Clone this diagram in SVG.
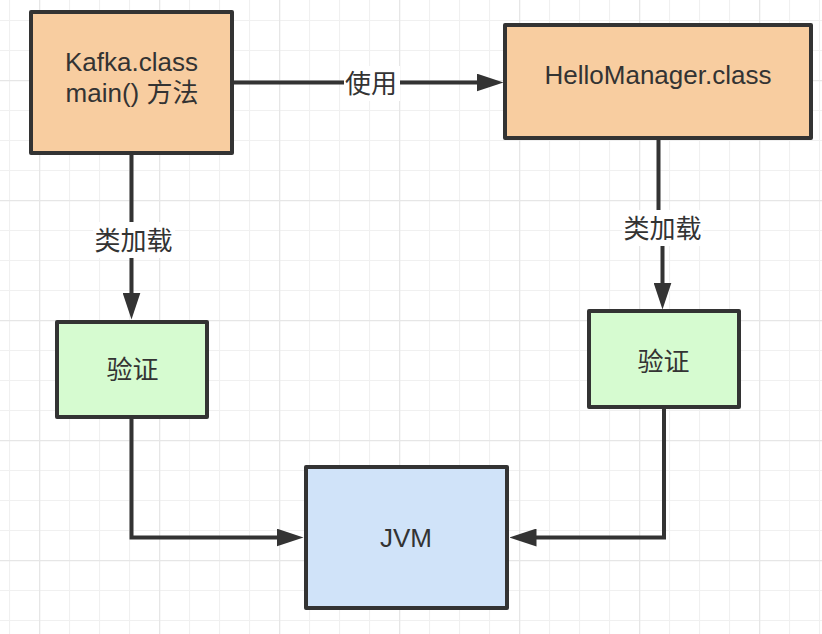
<svg xmlns="http://www.w3.org/2000/svg" width="822" height="634" viewBox="0 0 822 634">
  <style>
    .node { stroke: #333333; stroke-width: 4; stroke-linejoin: round; }
    .orange { fill: #F8CDA0; }
    .green { fill: #D6FBD0; }
    .blue { fill: #D0E3F9; }
    .t { font-family: "Liberation Sans", "Noto Sans CJK SC", sans-serif; font-size: 26px; fill: #333333; text-anchor: middle; }
    .edge { fill: none; stroke: #333333; stroke-width: 4; stroke-linejoin: miter; }
    .lblbg { fill: #ffffff; }
  </style>
  <defs>
    <pattern id="minor" patternUnits="userSpaceOnUse" x="9" y="20" width="30" height="30">
      <path d="M0.5,0 V30 M0,0.5 H30" fill="none" stroke="#f0f0f0" stroke-width="1.2"/>
    </pattern>
    <pattern id="major" patternUnits="userSpaceOnUse" x="39" y="80" width="120" height="120">
      <path d="M0.5,0 V120 M0,0.5 H120" fill="none" stroke="#e6e6e6" stroke-width="1.5"/>
    </pattern>
    <marker id="arrow" markerUnits="userSpaceOnUse" markerWidth="27" markerHeight="18" refX="0.5" refY="9" orient="auto" viewBox="0 0 27 18">
      <path d="M0,0 L27,9 L0,18 Z" fill="#333333"/>
    </marker>
  </defs>

  <rect width="822" height="634" fill="#ffffff"/>
  <rect width="822" height="634" fill="url(#minor)"/>
  <rect width="822" height="634" fill="url(#major)"/>

  <g id="connectors">
    <path class="edge" d="M233,82.5 H477" marker-end="url(#arrow)"/>
    <path class="edge" d="M131.5,154 V293" marker-end="url(#arrow)"/>
    <path class="edge" d="M658.5,139 V229 H662.5 V283" marker-end="url(#arrow)"/>
    <path class="edge" d="M131.5,418 V537.5 H277" marker-end="url(#arrow)"/>
    <path class="edge" d="M664,408 V537.5 H536" marker-end="url(#arrow)"/>
    <g id="label-use">
      <rect class="lblbg" x="344" y="66" width="56" height="35"/>
      <text class="t" x="371" y="92.5">使用</text>
    </g>
    <g id="label-load-left">
      <rect class="lblbg" x="93" y="222" width="82" height="36"/>
      <text class="t" x="133.5" y="249.5">类加载</text>
    </g>
    <g id="label-load-right">
      <rect class="lblbg" x="622" y="210" width="81" height="36"/>
      <text class="t" x="662.5" y="238">类加载</text>
    </g>
  </g>

  <g id="kafka">
    <rect class="node orange" x="31" y="12" width="201" height="141"/>
    <text class="t" x="131.5" y="71">Kafka.class</text>
    <text class="t" x="132" y="102">main() 方法</text>
  </g>
  <g id="hello">
    <rect class="node orange" x="505" y="25" width="306" height="113"/>
    <text class="t" x="658" y="84">HelloManager.class</text>
  </g>
  <g id="verify-left">
    <rect class="node green" x="57" y="322" width="150" height="95"/>
    <text class="t" x="132.5" y="379">验证</text>
  </g>
  <g id="verify-right">
    <rect class="node green" x="589" y="311" width="150" height="96"/>
    <text class="t" x="663.5" y="371">验证</text>
  </g>
  <g id="jvm">
    <rect class="node blue" x="306" y="467" width="201" height="141"/>
    <text class="t" x="406" y="547">JVM</text>
  </g>
</svg>
